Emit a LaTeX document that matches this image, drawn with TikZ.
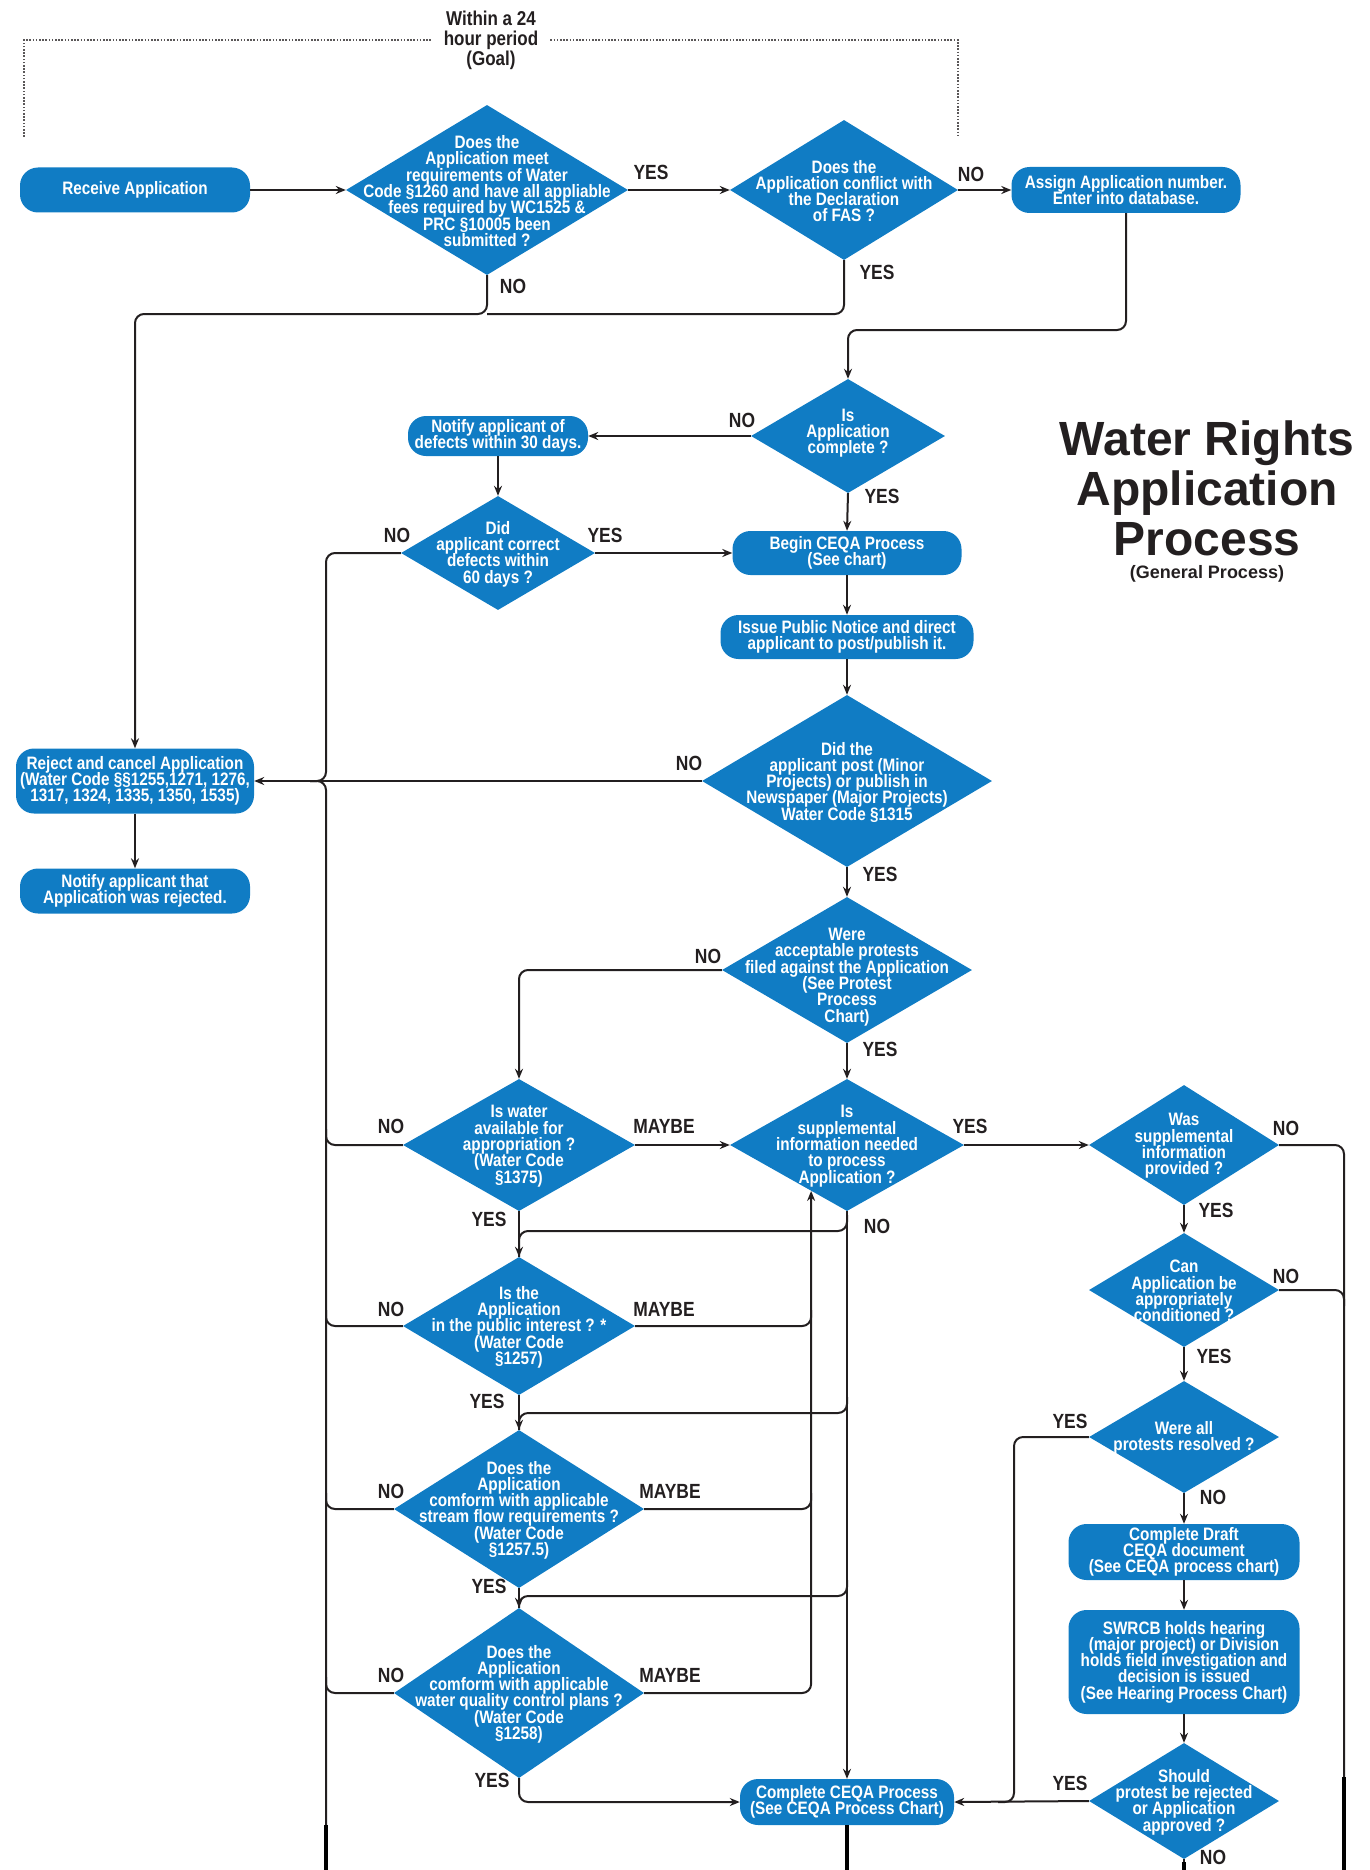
\documentclass[tikz,border=0pt]{standalone}
\usepackage{fontspec}
\setmainfont{Liberation Sans}[FakeStretch=0.85]
\newfontfamily\headfont{Liberation Sans}
\usetikzlibrary{shapes.geometric, arrows.meta, calc}

\definecolor{wrblue}{RGB}{16,124,196}
\definecolor{wrink}{RGB}{35,31,32}

\newcommand{\bluefont}{\fontsize{18}{16.3}\selectfont\bfseries\lineskiplimit=-10pt\relax}
\newcommand{\tagfont}{\fontsize{20.5}{20}\selectfont\bfseries}
\newcommand{\qtext}[2][0pt]{\smash{\raisebox{\dimexpr-0.3em-#1\relax}{\makebox[0pt]{\parbox{400pt}{\centering\lineskiplimit=-10pt #2}}}}}

\begin{document}
\begin{tikzpicture}[
    x=1pt, y=-1pt,
    pill/.style={rectangle, rounded corners=18pt, fill=wrblue, text=white, font=\bluefont, align=center, inner sep=2pt},
    query/.style={diamond, fill=wrblue, text=white, font=\bluefont, inner sep=0pt},
    tag/.style={text=wrink, font=\tagfont, inner sep=0pt},
    flow/.style={draw=wrink, line width=2pt, rounded corners=9pt},
    arrowline/.style={flow, -{Stealth[length=10pt,width=8pt]}},
    cutline/.style={draw=black, line width=4.5pt},
    goalline/.style={draw=wrink!75, line width=1.6pt, dash pattern=on 1.6pt off 1.6pt}
    ]
    \useasboundingbox (0,0) rectangle (1369,1870);

    % 24 hour bracket and title
    \node[text=wrink, font=\fontsize{20}{20}\selectfont\bfseries, align=center, inner xsep=12pt] (goal) at (491,40) {Within a 24\\hour period\\(Goal)};
    \coordinate (goalL) at (24,137);
    \coordinate (goalR) at (958,137);
    \draw[goalline] (goalL) |- (goal.west);
    \draw[goalline] (goal.east) -| (goalR);
    \node[text=wrink, font=\headfont\fontsize{48}{50}\selectfont\bfseries, align=center] (title) at (1207,488) {Water Rights\\Application\\Process};
    \node[text=wrink, font=\headfont\fontsize{18}{20}\selectfont\bfseries] (subtitle) at (1207,574) {(General Process)};

    % intake
    \node[pill, minimum width=230pt, minimum height=45pt] (receive) at (135,190) {Receive Application};
    \node[query, minimum width=282pt, minimum height=170pt] (fees) at (487,190) {\qtext{Does the\\Application meet\\requirements of Water\\Code §1260 and have all appliable\\fees required by WC1525 \&\\PRC §10005 been\\submitted ?}};
    \node[query, minimum width=228pt, minimum height=140pt] (fas) at (844,190) {\qtext{Does the\\Application conflict with\\the Declaration\\of FAS ?}};
    \node[pill, minimum width=229pt, minimum height=46pt] (assign) at (1126,190) {Assign Application number.\\Enter into database.};

    % completeness
    \node[query, minimum width=194pt, minimum height=114pt] (complete) at (848,436) {\qtext[-4pt]{Is\\Application\\complete ?}};
    \node[pill, minimum width=180pt, minimum height=40pt] (defects) at (498,436) {Notify applicant of\\defects within 30 days.};
    \node[query, minimum width=194pt, minimum height=114pt] (corrected) at (498,553) {\qtext{Did\\applicant correct\\defects within\\60 days ?}};
    \node[pill, minimum width=229pt, minimum height=44pt] (beginceqa) at (847,553) {Begin CEQA Process\\(See chart)};
    \node[pill, minimum width=253pt, minimum height=44pt] (notice) at (847,637) {Issue Public Notice and direct\\applicant to post/publish it.};
    \node[query, minimum width=290pt, minimum height=172pt] (posted) at (847,781) {\qtext{Did the\\applicant post (Minor\\Projects) or publish in\\Newspaper (Major Projects)\\Water Code §1315}};
    \node[pill, minimum width=238pt, minimum height=65pt] (reject) at (135,781) {Reject and cancel Application\\(Water Code §§1255,1271, 1276,\\1317, 1324, 1335, 1350, 1535)};
    \node[pill, minimum width=230pt, minimum height=45pt] (rejected) at (135,891) {Notify applicant that\\Application was rejected.};
    \node[query, minimum width=250pt, minimum height=146pt] (protests) at (847,970) {\qtext[6pt]{Were\\acceptable protests\\filed against the Application\\(See Protest\\Process\\Chart)}};

    % review column
    \node[query, minimum width=232pt, minimum height=132pt] (water) at (519,1145) {\qtext{Is water\\available for\\appropriation ?\\(Water Code\\§1375)}};
    \node[query, minimum width=232pt, minimum height=138pt] (interest) at (519,1326) {\qtext{Is the\\Application\\in the public interest ? *\\(Water Code\\§1257)}};
    \node[query, minimum width=250pt, minimum height=158pt] (streamflow) at (519,1509) {\qtext{Does the\\Application\\comform with applicable\\stream flow requirements ?\\(Water Code\\§1257.5)}};
    \node[query, minimum width=250pt, minimum height=170pt] (quality) at (519,1693) {\qtext{Does the\\Application\\comform with applicable\\water quality control plans ?\\(Water Code\\§1258)}};
    \node[query, minimum width=234pt, minimum height=132pt] (suppl) at (847,1145) {\qtext{Is\\supplemental\\information needed\\to process\\Application ?}};
    \node[pill, minimum width=214pt, minimum height=46pt] (finish) at (847,1802) {Complete CEQA Process\\(See CEQA Process Chart)};

    % protest column
    \node[query, minimum width=190pt, minimum height=120pt] (provided) at (1184,1145) {\qtext{Was\\supplemental\\information\\provided ?}};
    \node[query, minimum width=190pt, minimum height=114pt] (conditioned) at (1184,1290) {\qtext{Can\\Application be\\appropriately\\conditioned ?}};
    \node[query, minimum width=190pt, minimum height=112pt] (resolved) at (1184,1437) {\qtext{Were all\\protests resolved ?}};
    \node[pill, minimum width=231pt, minimum height=56pt] (draft) at (1184,1552) {Complete Draft\\CEQA document\\(See CEQA process chart)};
    \node[pill, minimum width=231pt, minimum height=104pt] (hearing) at (1184,1662) {SWRCB holds hearing\\(major project) or Division\\holds field investigation and\\decision is issued\\(See Hearing Process Chart)};
    \node[query, minimum width=190pt, minimum height=116pt] (approved) at (1184,1801) {\qtext{Should\\protest be rejected\\or Application\\approved ?}};

    % bus points
    \coordinate (rejbus) at (135,314);
    \coordinate (c1) at (848,330);
    \coordinate (lbus) at (326,781);
    \coordinate (lbot) at (326,1870);
    \coordinate (rbot) at (1344,1870);
    \coordinate (mbus) at (suppl.232);
    \coordinate (ybus) at (1014,1802);
    \coordinate (finbot) at (847,1870);
    \coordinate (appbot) at (1184,1870);
    \coordinate (b1) at (847,1231);
    \coordinate (b2) at (847,1413);
    \coordinate (b3) at (847,1596);

    % connectors
    \draw[arrowline] (receive.east) -- (fees.west);
    \draw[arrowline] (fees.east) -- (fas.west);
    \draw[arrowline] (fas.east) -- (assign.west);
    \draw[arrowline] (fees.south) |- (rejbus) -- (reject.north);
    \draw[flow] (fas.south) |- (fees.south |- rejbus);
    \draw[arrowline] (assign.south) |- (c1) -- (complete.north);
    \draw[arrowline] (complete.west) -- (defects.east);
    \draw[arrowline] (defects.south) -- (corrected.north);
    \draw[arrowline] (corrected.east) -- (beginceqa.west);
    \draw[arrowline] (complete.south) -- (beginceqa.north);
    \draw[arrowline] (beginceqa.south) -- (notice.north);
    \draw[arrowline] (notice.south) -- (posted.north);
    \draw[arrowline] (posted.west) -- (reject.east);
    \draw[arrowline] (reject.south) -- (rejected.north);
    \draw[flow] (corrected.west) -| (lbus) -- ++(-16,0);
    \draw[flow] (lbot) -- (lbus) -- ++(-16,0);
    \draw[arrowline] (posted.south) -- (protests.north);
    \draw[arrowline] (protests.west) -| (water.north);
    \draw[arrowline] (protests.south) -- (suppl.north);
    \draw[arrowline] (water.east) -- (suppl.west);
    \draw[arrowline] (suppl.east) -- (provided.west);
    \draw[arrowline] (suppl.south) -- (finish.north);

    \draw[flow] (water.west) -| ($(lbus |- water.west)+(0,-16)$);
    \draw[arrowline] (water.south) -- (interest.north);
    \draw[flow] ($(b1)+(0,-16)$) |- (interest.north |- b1) -- (interest.north);
    \draw[flow] (interest.west) -| ($(lbus |- interest.west)+(0,-16)$);
    \draw[flow] (interest.east) -| ($(mbus |- interest.east)+(0,-16)$);
    \draw[arrowline] (interest.south) -- (streamflow.north);
    \draw[flow] ($(b2)+(0,-16)$) |- (streamflow.north |- b2) -- (streamflow.north);
    \draw[flow] (streamflow.west) -| ($(lbus |- streamflow.west)+(0,-16)$);
    \draw[flow] (streamflow.east) -| ($(mbus |- streamflow.east)+(0,-16)$);
    \draw[arrowline] (streamflow.south) -- (quality.north);
    \draw[flow] ($(b3)+(0,-16)$) |- (quality.north |- b3) -- (quality.north);
    \draw[flow] (quality.west) -| ($(lbus |- quality.west)+(0,-16)$);
    \draw[arrowline] (quality.east) -| (mbus);
    \draw[arrowline] (quality.south) |- (finish.west);

    \draw[arrowline] (provided.south) -- (conditioned.north);
    \draw[arrowline] (conditioned.south) -- (resolved.north);
    \draw[arrowline] (resolved.south) -- (draft.north);
    \draw[arrowline] (draft.south) -- (hearing.north);
    \draw[arrowline] (hearing.south) -- (approved.north);
    \draw[flow] (provided.east) -| (rbot);
    \draw[flow] (conditioned.east) -| ($(rbot |- conditioned.east)+(0,16)$);
    \draw[flow] (resolved.west) -| (ybus) -- ++(-16,0);
    \draw[arrowline] (approved.west) -- (finish.east);
    \draw[flow] (finish.south) -- (finbot);
    \draw[flow] (approved.south) -- (appbot);

    % lines running off the page
    \draw[cutline] (lbot) -- ++(0,-45);
    \draw[cutline] (finbot) -- ++(0,-45);
    \draw[cutline] (rbot) -- ++(0,-93);
    \draw[cutline] (appbot) -- ++(0,-8);

    % branch labels
    \foreach \n/\x/\y/\word in {feesyes/651/172/YES, feesno/513/286/NO, fasno/971/174/NO, fasyes/877/272/YES,
        compno/742/420/NO, compyes/882/496/YES, corrno/397/535/NO, corryes/605/535/YES,
        postno/689/763/NO, postyes/880/874/YES, protno/708/956/NO, protyes/880/1049/YES,
        waterno/391/1126/NO, watermaybe/664/1126/MAYBE, wateryes/489/1219/YES,
        suppyes/970/1126/YES, suppno/877/1226/NO, provno/1286/1128/NO, provyes/1216/1210/YES,
        condno/1286/1276/NO, condyes/1214/1356/YES, resyes/1070/1421/YES, resno/1213/1497/NO,
        appryes/1070/1783/YES, apprno/1213/1857/NO,
        intno/391/1309/NO, intmaybe/664/1309/MAYBE, intyes/487/1401/YES,
        flowno/391/1491/NO, flowmaybe/670/1491/MAYBE, flowyes/489/1586/YES,
        qualno/391/1675/NO, qualmaybe/670/1675/MAYBE, qualyes/492/1780/YES}
        \node[tag] (\n) at (\x,\y) {\word};
\end{tikzpicture}
\end{document}
